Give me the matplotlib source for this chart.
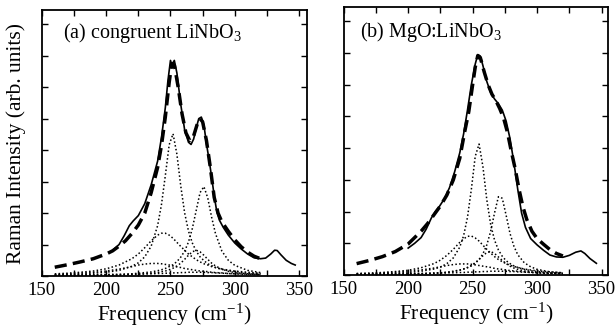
import matplotlib
matplotlib.use('Agg')
import matplotlib.pyplot as plt
from matplotlib.ticker import MultipleLocator

plt.rcParams['font.family'] = ['Liberation Serif', 'DejaVu Serif']
plt.rcParams['mathtext.fontset'] = 'custom'
plt.rcParams['mathtext.rm'] = 'Liberation Serif'
plt.rcParams['mathtext.it'] = 'Liberation Serif:italic'

# fitted components share one frequency grid
x_comp = [160, 170, 180, 190, 200, 210, 220, 225, 230, 235, 240, 243, 246, 249, 252,
          255, 258, 261, 264, 267, 270, 273, 276, 279, 282, 285, 290, 295, 300, 310, 320]

# (a) congruent LiNbO3
a_comp1 = [0.04, 0.05, 0.06, 0.09, 0.12, 0.18, 0.31, 0.42, 0.61, 0.95, 1.60, 2.27, 3.19, 4.17, 4.52,
           3.87, 2.86, 2.01, 1.43, 1.05, 0.79, 0.61, 0.49, 0.39, 0.33, 0.27, 0.21, 0.17, 0.14, 0.09, 0.07]
a_comp2 = [0.02, 0.02, 0.03, 0.03, 0.04, 0.05, 0.07, 0.09, 0.11, 0.13, 0.17, 0.20, 0.24, 0.30, 0.36,
           0.46, 0.60, 0.79, 1.08, 1.51, 2.08, 2.65, 2.84, 2.48, 1.87, 1.35, 0.79, 0.50, 0.34, 0.18, 0.11]
a_comp3 = [0.07, 0.09, 0.12, 0.16, 0.23, 0.35, 0.55, 0.70, 0.90, 1.12, 1.30, 1.36, 1.36, 1.30, 1.20,
           1.07, 0.94, 0.82, 0.70, 0.61, 0.52, 0.45, 0.39, 0.35, 0.30, 0.27, 0.22, 0.19, 0.16, 0.12, 0.09]
a_comp4 = [0.01, 0.01, 0.01, 0.02, 0.02, 0.03, 0.05, 0.05, 0.07, 0.09, 0.11, 0.14, 0.16, 0.20, 0.25,
           0.32, 0.41, 0.53, 0.66, 0.77, 0.82, 0.77, 0.66, 0.53, 0.41, 0.32, 0.22, 0.15, 0.11, 0.07, 0.05]
a_comp5 = [0.05, 0.07, 0.09, 0.12, 0.16, 0.22, 0.30, 0.35, 0.38, 0.40, 0.40, 0.39, 0.37, 0.35, 0.32,
           0.29, 0.27, 0.24, 0.22, 0.20, 0.18, 0.16, 0.15, 0.14, 0.12, 0.11, 0.10, 0.08, 0.07, 0.06, 0.05]
comp_base = [0.03, 0.03, 0.04, 0.04, 0.05, 0.05, 0.06, 0.06, 0.07, 0.07, 0.08, 0.08, 0.09, 0.09, 0.10,
             0.10, 0.11, 0.11, 0.12, 0.12, 0.12, 0.12, 0.12, 0.11, 0.11, 0.10, 0.09, 0.08, 0.07, 0.05, 0.04]

a_fit_x = [160, 170, 180, 190, 200, 205, 210, 215, 220, 225, 230, 235, 240, 243, 246, 249, 251, 253, 256,
           259, 262, 265, 268, 271, 273, 275, 278, 281, 284, 287, 290, 295, 300, 305, 310, 315, 320]
a_fit_y = [0.28, 0.36, 0.45, 0.55, 0.70, 0.80, 0.95, 1.12, 1.35, 1.62, 2.00, 2.65, 3.45, 4.15, 5.05, 6.15,
           6.75, 6.70, 6.00, 5.15, 4.55, 4.30, 4.45, 4.85, 5.00, 4.90, 4.30, 3.45, 2.50, 2.00, 1.72, 1.42,
           1.15, 0.93, 0.76, 0.63, 0.55]

a_meas_x = [205, 210, 214, 218, 221, 225, 230, 235, 240, 243, 246, 248, 250, 251, 252, 253, 255, 258,
            261, 264, 266, 268, 270, 272, 274, 276, 278, 280, 282, 284, 286, 288, 291, 295, 300, 305,
            310, 315, 320, 324, 328, 331, 333, 336, 340, 344, 347]
a_meas_y = [0.82, 1.00, 1.28, 1.60, 1.75, 1.92, 2.30, 2.90, 3.65, 4.40, 5.35, 6.20, 6.85, 6.70, 6.78,
            6.85, 6.45, 5.45, 4.65, 4.25, 4.18, 4.35, 4.70, 5.00, 5.05, 4.80, 4.20, 3.70, 3.15, 2.55,
            2.05, 1.78, 1.55, 1.30, 1.05, 0.86, 0.70, 0.58, 0.55, 0.57, 0.70, 0.82, 0.81, 0.67, 0.50,
            0.40, 0.35]

# (b) MgO:LiNbO3
b_comp1 = [0.03, 0.03, 0.04, 0.06, 0.08, 0.12, 0.19, 0.25, 0.36, 0.54, 0.88, 1.24, 1.82, 2.70, 3.74,
           4.13, 3.41, 2.37, 1.59, 1.10, 0.79, 0.59, 0.45, 0.36, 0.29, 0.24, 0.18, 0.14, 0.11, 0.07, 0.05]
b_comp2 = [0.01, 0.02, 0.02, 0.02, 0.03, 0.04, 0.06, 0.07, 0.09, 0.12, 0.16, 0.19, 0.23, 0.29, 0.37,
           0.49, 0.67, 0.95, 1.38, 1.96, 2.47, 2.42, 1.88, 1.31, 0.91, 0.64, 0.39, 0.26, 0.18, 0.10, 0.07]
b_comp3 = [0.05, 0.06, 0.08, 0.11, 0.15, 0.23, 0.36, 0.47, 0.62, 0.81, 1.03, 1.14, 1.22, 1.23, 1.17,
           1.07, 0.94, 0.81, 0.69, 0.58, 0.49, 0.42, 0.36, 0.31, 0.27, 0.24, 0.19, 0.16, 0.13, 0.10, 0.07]
b_comp4 = [0.01, 0.01, 0.02, 0.02, 0.03, 0.04, 0.05, 0.07, 0.08, 0.11, 0.15, 0.19, 0.24, 0.30, 0.39,
           0.49, 0.61, 0.71, 0.74, 0.68, 0.57, 0.46, 0.36, 0.28, 0.22, 0.18, 0.13, 0.09, 0.07, 0.05, 0.03]
b_comp5 = [0.04, 0.05, 0.07, 0.09, 0.12, 0.16, 0.22, 0.26, 0.30, 0.33, 0.35, 0.35, 0.35, 0.34, 0.32,
           0.30, 0.28, 0.26, 0.24, 0.21, 0.19, 0.18, 0.16, 0.14, 0.13, 0.12, 0.10, 0.09, 0.08, 0.06, 0.05]

b_fit_x = [160, 170, 180, 190, 200, 210, 215, 220, 225, 230, 235, 240, 244, 247, 250, 252, 254, 256,
           259, 262, 265, 268, 271, 274, 277, 280, 283, 286, 289, 292, 296, 300, 305, 310, 315, 320]
b_fit_y = [0.36, 0.46, 0.58, 0.74, 0.98, 1.38, 1.62, 1.90, 2.18, 2.52, 3.00, 3.68, 4.55, 5.15, 6.00,
           6.55, 6.92, 6.85, 6.40, 6.00, 5.70, 5.50, 5.25, 4.95, 4.50, 3.90, 3.35, 2.70, 2.15, 1.75,
           1.38, 1.15, 0.97, 0.80, 0.68, 0.60]

b_meas_x = [200, 205, 210, 214, 218, 221, 224, 228, 232, 236, 240, 243, 246, 249, 252, 254, 256, 258,
            261, 264, 267, 270, 273, 276, 279, 282, 285, 288, 291, 295, 300, 305, 310, 315, 320, 325,
            330, 334, 337, 341, 346]
b_meas_y = [0.85, 1.00, 1.18, 1.45, 1.80, 2.00, 2.15, 2.40, 2.75, 3.25, 3.85, 4.45, 5.20, 6.00, 6.65,
            6.95, 6.90, 6.60, 6.10, 5.75, 5.55, 5.40, 5.20, 4.85, 4.30, 3.55, 2.70, 1.95, 1.50, 1.15,
            0.95, 0.78, 0.63, 0.57, 0.56, 0.62, 0.72, 0.76, 0.68, 0.52, 0.37]

panels = [
    dict(rect=[0.068, 0.176, 0.430, 0.794], xlim=(150, 356),
         comps=[a_comp1, a_comp2, a_comp3, a_comp4, a_comp5, comp_base],
         fit=(a_fit_x, a_fit_y), meas=(a_meas_x, a_meas_y),
         label='(a) congruent LiNbO$_3$', lpos=(0.078, 0.915)),
    dict(rect=[0.558, 0.179, 0.429, 0.800], xlim=(150, 355),
         comps=[b_comp1, b_comp2, b_comp3, b_comp4, b_comp5, comp_base],
         fit=(b_fit_x, b_fit_y), meas=(b_meas_x, b_meas_y),
         label='(b) MgO:LiNbO$_3$', lpos=(0.062, 0.905)),
]

fig = plt.figure(figsize=(6.16, 3.35), dpi=100)

for p in panels:
    ax = fig.add_axes(p['rect'])
    for c in p['comps']:
        ax.plot(x_comp, c, color='black', lw=1.1, linestyle=(0, (1, 1.5)))
    ax.plot(*p['meas'], color='black', lw=1.2)
    ax.plot(*p['fit'], color='black', lw=2.5, linestyle=(0, (3.5, 1.8)))
    ax.set_xlim(*p['xlim'])
    ax.set_ylim(0, 8.45)
    ax.xaxis.set_major_locator(MultipleLocator(50))
    ax.xaxis.set_minor_locator(MultipleLocator(25))
    ax.yaxis.set_major_locator(MultipleLocator(1))
    ax.tick_params(which='both', direction='in', top=True, right=True, length=4.5, width=1.0,
                   labelsize=13.5, pad=4)
    ax.tick_params(axis='y', labelleft=False)
    for s in ax.spines.values():
        s.set_linewidth(1.3)
    ax.set_xlabel('Frequency (cm$^{-1}$)', fontsize=15.5, labelpad=2)
    ax.text(p['lpos'][0], p['lpos'][1], p['label'], transform=ax.transAxes,
            fontsize=14.5, va='center', ha='left')

fig.text(0.027, 0.573, 'Raman Intensity (arb. units)', rotation=90, fontsize=15.5,
         va='center', ha='center')

fig.savefig('out.png', dpi=100)
